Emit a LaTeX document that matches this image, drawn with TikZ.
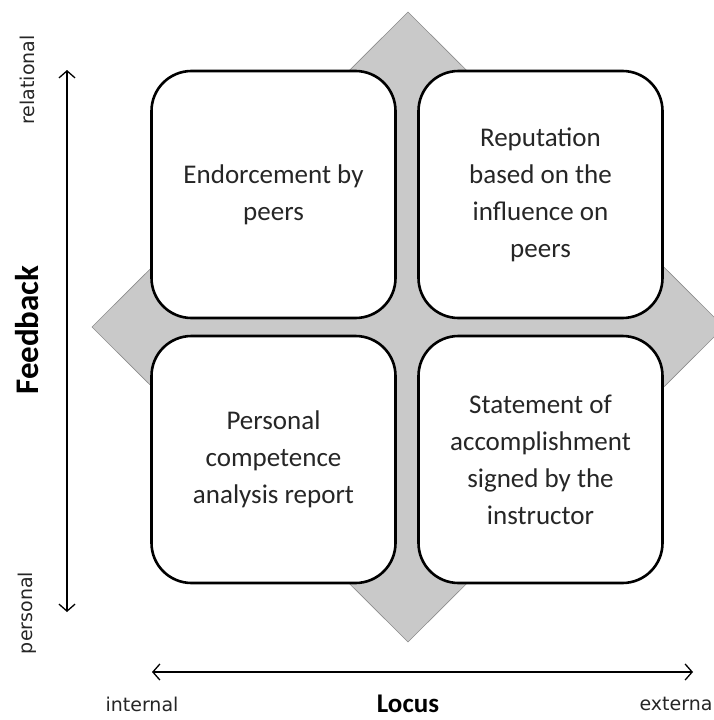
\documentclass[tikz,border=0pt]{standalone}
\usepackage{fontspec}
\setmainfont{Carlito}
\newfontfamily\labelfont{DejaVu Sans}
\usetikzlibrary{arrows.meta}
\begin{document}
\begin{tikzpicture}[x=1pt,y=-1pt,
  box/.style={draw=black, line width=2.6pt, fill=white, rounded corners=40pt,
    minimum width=244pt, minimum height=247pt, align=center, text=black!85,
    font=\fontsize{27}{37}\selectfont},
  axis/.style={line width=1.3pt, {Straight Barb[length=7pt,width=16pt]}-{Straight Barb[length=7pt,width=16pt]}},
  small/.style={font=\labelfont\fontsize{19}{22}\selectfont, text=black!85},
  big/.style={font=\fontsize{28}{32}\selectfont\bfseries, text=black}]
\useasboundingbox (0,0) rectangle (714,720);
\begin{scope}
\clip (0,0) rectangle (714,720);
\filldraw[fill=black!21, draw=black!45, line width=0.6pt] (408,12) -- (724,327) -- (408,642) -- (92,327) -- cycle;
\end{scope}
\node[box] (tl) at (273.5,194.5) {Endorcement by\\peers};
\node[box] (tr) at (540.5,194.5) {Reputation\\based on the\\influence on\\peers};
\node[box] (bl) at (273.5,459.5) {Personal\\competence\\analysis report};
\node[box] (br) at (540.5,459.5) {Statement of\\accomplishment\\signed by the\\instructor};
\coordinate (vt) at (67,70);
\coordinate (vb) at (67,612);
\coordinate (hl) at (152,672);
\coordinate (hr) at (693,672);
\draw[axis] (vb) -- (vt);
\draw[axis] (hl) -- (hr);
\node[small, rotate=90] (rel) at (27,80) {relational};
\node[small, rotate=90] (per) at (27,613) {personal};
\node[big, rotate=90, font=\fontsize{33}{36}\selectfont\bfseries] (fb) at (27,330) {Feedback};
\node[small] (int) at (142,704) {internal};
\node[small, anchor=west] (ext) at (636,704) {externa};
\node[big, font=\fontsize{27}{30}\selectfont\bfseries, inner sep=1pt] (loc) at (408,704) {Locus};
\end{tikzpicture}
\end{document}
